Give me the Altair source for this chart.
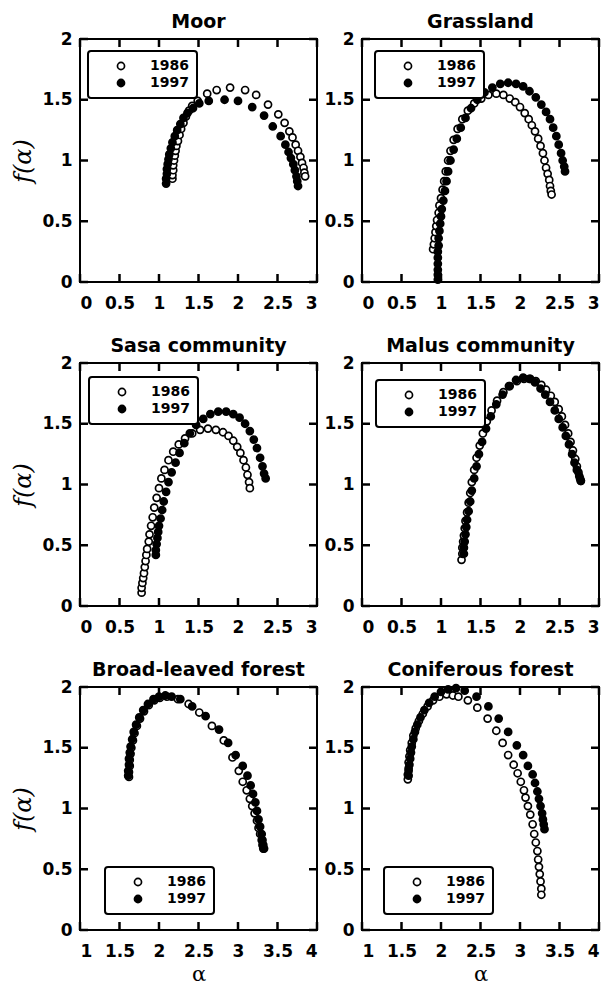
import altair as alt
import pandas as pd

FONT = "DejaVu Sans"
SERIF = "DejaVu Serif"

titles = ["Moor", "Grassland", "Sasa community", "Malus community",
          "Broad-leaved forest", "Coniferous forest"]
years = ["1986", "1997"]
x_ticks_03 = [0, 0.5, 1, 1.5, 2, 2.5, 3]
x_ticks_14 = [1, 1.5, 2, 2.5, 3, 3.5, 4]
y_ticks = [0, 0.5, 1, 1.5, 2]

# ---- Moor ----
moor_86_a = [1.17, 1.17, 1.18, 1.18, 1.19, 1.20, 1.21, 1.22, 1.24, 1.26, 1.28, 1.31, 1.34, 1.38, 1.42,
             1.49, 1.61, 1.73, 1.90, 2.09, 2.23, 2.38, 2.51, 2.59, 2.65, 2.69, 2.73, 2.76, 2.79, 2.81,
             2.83, 2.84, 2.85]
moor_86_f = [0.85, 0.88, 0.92, 0.96, 1.00, 1.04, 1.08, 1.12, 1.16, 1.21, 1.26, 1.31, 1.36, 1.41, 1.45,
             1.49, 1.55, 1.58, 1.60, 1.58, 1.54, 1.46, 1.38, 1.31, 1.24, 1.19, 1.13, 1.08, 1.03, 0.98,
             0.94, 0.90, 0.87]
moor_97_a = [1.09, 1.09, 1.10, 1.10, 1.11, 1.12, 1.13, 1.15, 1.17, 1.20, 1.23, 1.27, 1.31, 1.36, 1.43,
             1.51, 1.63, 1.83, 2.00, 2.18, 2.33, 2.44, 2.54, 2.60, 2.64, 2.67, 2.70, 2.72, 2.74, 2.75,
             2.76]
moor_97_f = [0.81, 0.85, 0.89, 0.93, 0.97, 1.01, 1.05, 1.10, 1.15, 1.20, 1.25, 1.30, 1.35, 1.39, 1.43,
             1.47, 1.49, 1.50, 1.49, 1.44, 1.37, 1.28, 1.20, 1.13, 1.07, 1.02, 0.97, 0.92, 0.87, 0.83,
             0.79]

# ---- Grassland ----
grass_86_a = [0.90, 0.91, 0.92, 0.93, 0.94, 0.95, 0.97, 0.98, 1.00, 1.02, 1.04, 1.06, 1.09, 1.12, 1.16,
              1.21, 1.27, 1.34, 1.42, 1.51, 1.60, 1.70, 1.79, 1.87, 1.94, 2.00, 2.06, 2.11, 2.15, 2.19,
              2.23, 2.26, 2.29, 2.31, 2.33, 2.35, 2.37, 2.38, 2.39, 2.40]
grass_86_f = [0.27, 0.31, 0.36, 0.41, 0.46, 0.51, 0.57, 0.63, 0.69, 0.76, 0.83, 0.91, 1.00, 1.08, 1.17,
              1.26, 1.34, 1.41, 1.47, 1.51, 1.54, 1.55, 1.54, 1.51, 1.48, 1.44, 1.39, 1.34, 1.29, 1.24,
              1.18, 1.12, 1.06, 1.00, 0.94, 0.89, 0.84, 0.79, 0.75, 0.72]
grass_97_a = [0.96, 0.96, 0.96, 0.96, 0.96, 0.96, 0.97, 0.97, 0.98, 0.99, 1.00, 1.01, 1.03, 1.05, 1.07,
              1.09, 1.12, 1.16, 1.20, 1.25, 1.31, 1.38, 1.46, 1.55, 1.65, 1.75, 1.85, 1.95, 2.04, 2.12,
              2.20, 2.27, 2.33, 2.38, 2.42, 2.46, 2.49, 2.52, 2.54, 2.56, 2.57]
grass_97_f = [0.02, 0.06, 0.10, 0.15, 0.20, 0.25, 0.30, 0.36, 0.42, 0.48, 0.54, 0.60, 0.67, 0.75, 0.83,
              0.91, 1.00, 1.09, 1.18, 1.27, 1.35, 1.43, 1.50, 1.56, 1.60, 1.63, 1.64, 1.63, 1.61, 1.57,
              1.52, 1.46, 1.40, 1.34, 1.27, 1.20, 1.13, 1.06, 1.00, 0.95, 0.91]

# ---- Sasa community ----
sasa_86_a = [0.78, 0.78, 0.79, 0.80, 0.81, 0.82, 0.83, 0.84, 0.85, 0.87, 0.88, 0.90, 0.92, 0.94, 0.97,
             1.00, 1.03, 1.07, 1.12, 1.18, 1.25, 1.33, 1.42, 1.52, 1.62, 1.72, 1.81, 1.88, 1.94, 1.99,
             2.03, 2.07, 2.10, 2.12, 2.14, 2.15]
sasa_86_f = [0.11, 0.15, 0.19, 0.23, 0.27, 0.32, 0.37, 0.42, 0.47, 0.53, 0.59, 0.66, 0.73, 0.81, 0.89,
             0.97, 1.05, 1.12, 1.20, 1.27, 1.33, 1.38, 1.42, 1.45, 1.46, 1.45, 1.43, 1.40, 1.36, 1.31,
             1.26, 1.20, 1.14, 1.08, 1.02, 0.97]
sasa_97_a = [0.96, 0.96, 0.97, 0.98, 0.99, 1.00, 1.02, 1.04, 1.06, 1.09, 1.12, 1.16, 1.21, 1.26, 1.32,
             1.39, 1.47, 1.56, 1.65, 1.75, 1.85, 1.94, 2.02, 2.09, 2.15, 2.20, 2.24, 2.28, 2.31, 2.33,
             2.35]
sasa_97_f = [0.42, 0.46, 0.51, 0.56, 0.61, 0.66, 0.72, 0.79, 0.86, 0.94, 1.02, 1.10, 1.18, 1.26, 1.34,
             1.42, 1.49, 1.54, 1.58, 1.60, 1.60, 1.58, 1.55, 1.50, 1.44, 1.37, 1.30, 1.22, 1.15, 1.09,
             1.05]

# ---- Malus community ----
malus_86_a = [1.26, 1.27, 1.27, 1.28, 1.29, 1.30, 1.31, 1.33, 1.35, 1.37, 1.39, 1.42, 1.45, 1.49, 1.53,
              1.58, 1.64, 1.71, 1.79, 1.87, 1.96, 2.05, 2.13, 2.20, 2.27, 2.33, 2.39, 2.44, 2.49, 2.53,
              2.57, 2.61, 2.64, 2.67, 2.70, 2.72, 2.74, 2.76, 2.77]
malus_86_f = [0.38, 0.43, 0.48, 0.53, 0.58, 0.64, 0.70, 0.77, 0.85, 0.93, 1.02, 1.12, 1.22, 1.32, 1.42,
              1.52, 1.61, 1.69, 1.76, 1.81, 1.85, 1.87, 1.87, 1.85, 1.82, 1.78, 1.73, 1.68, 1.62, 1.56,
              1.49, 1.42, 1.35, 1.28, 1.21, 1.15, 1.10, 1.05, 1.03]
malus_97_a = [1.29, 1.29, 1.30, 1.31, 1.32, 1.33, 1.35, 1.37, 1.39, 1.42, 1.45, 1.48, 1.52, 1.57, 1.63,
              1.70, 1.78, 1.86, 1.95, 2.04, 2.12, 2.19, 2.26, 2.32, 2.38, 2.44, 2.49, 2.54, 2.58, 2.62,
              2.66, 2.69, 2.72, 2.75, 2.77]
malus_97_f = [0.43, 0.48, 0.53, 0.59, 0.65, 0.71, 0.78, 0.86, 0.95, 1.05, 1.15, 1.25, 1.35, 1.46, 1.56,
              1.66, 1.74, 1.81, 1.86, 1.88, 1.87, 1.84, 1.79, 1.74, 1.68, 1.61, 1.54, 1.47, 1.40, 1.33,
              1.25, 1.18, 1.12, 1.07, 1.03]

# ---- Broad-leaved forest ----
broad_86_a = [1.62, 1.62, 1.63, 1.63, 1.64, 1.65, 1.67, 1.69, 1.72, 1.76, 1.81, 1.87, 1.94, 2.01, 2.10,
              2.24, 2.375, 2.51, 2.67, 2.82, 2.93, 3.01, 3.06, 3.11, 3.15, 3.18, 3.21, 3.24, 3.26, 3.28,
              3.30, 3.31, 3.32]
broad_86_f = [1.26, 1.30, 1.35, 1.40, 1.45, 1.50, 1.56, 1.62, 1.68, 1.74, 1.80, 1.85, 1.89, 1.91, 1.92,
              1.90, 1.86, 1.79, 1.68, 1.56, 1.42, 1.31, 1.22, 1.15, 1.08, 1.02, 0.96, 0.90, 0.84, 0.79,
              0.74, 0.70, 0.67]
broad_97_a = [1.61, 1.61, 1.62, 1.62, 1.63, 1.64, 1.66, 1.68, 1.71, 1.75, 1.80, 1.86, 1.93, 2.00, 2.08,
              2.16, 2.27, 2.42, 2.59, 2.76, 2.875, 2.97, 3.06, 3.12, 3.16, 3.19, 3.22, 3.24, 3.26, 3.28,
              3.30, 3.31, 3.32, 3.33]
broad_97_f = [1.27, 1.31, 1.36, 1.41, 1.46, 1.51, 1.57, 1.63, 1.69, 1.75, 1.81, 1.86, 1.90, 1.92, 1.93,
              1.92, 1.90, 1.84, 1.76, 1.65, 1.54, 1.44, 1.35, 1.27, 1.19, 1.12, 1.05, 0.98, 0.91, 0.85,
              0.79, 0.74, 0.70, 0.67]

# ---- Coniferous forest ----
conif_86_a = [1.58, 1.58, 1.59, 1.59, 1.60, 1.61, 1.63, 1.65, 1.68, 1.72, 1.77, 1.83, 1.90, 1.98, 2.07,
              2.15, 2.22, 2.34, 2.46, 2.59, 2.70, 2.78, 2.85, 2.92, 2.97, 3.01, 3.05, 3.07, 3.10, 3.13,
              3.16, 3.18, 3.20, 3.22, 3.23, 3.24, 3.25, 3.26, 3.27, 3.27]
conif_86_f = [1.24, 1.28, 1.33, 1.38, 1.43, 1.48, 1.54, 1.60, 1.66, 1.72, 1.78, 1.84, 1.89, 1.92, 1.94,
              1.93, 1.92, 1.89, 1.83, 1.74, 1.64, 1.54, 1.44, 1.36, 1.29, 1.22, 1.15, 1.09, 1.02, 0.95,
              0.87, 0.79, 0.72, 0.65, 0.58, 0.52, 0.46, 0.40, 0.34, 0.29]
conif_97_a = [1.59, 1.59, 1.60, 1.61, 1.62, 1.63, 1.65, 1.67, 1.70, 1.74, 1.79, 1.85, 1.92, 2.00, 2.09,
              2.19, 2.30, 2.45, 2.60, 2.73, 2.85, 2.96, 3.04, 3.10, 3.16, 3.19, 3.22, 3.24, 3.26, 3.28,
              3.29, 3.30, 3.31]
conif_97_f = [1.27, 1.31, 1.36, 1.41, 1.46, 1.51, 1.57, 1.63, 1.69, 1.75, 1.81, 1.87, 1.92, 1.96, 1.98,
              1.99, 1.97, 1.92, 1.84, 1.74, 1.63, 1.52, 1.44, 1.35, 1.28, 1.21, 1.14, 1.08, 1.02, 0.96,
              0.91, 0.87, 0.83]

W, H = 237, 243
TICK = 8


def panel(title, a86, f86, a97, f97, xdom, xticks, ytitle, xtitle, lx, ly):
    df = pd.DataFrame({
        "alpha": a86 + a97,
        "f": f86 + f97,
        "year": [years[0]] * len(a86) + [years[1]] * len(a97),
    })
    xt_df = pd.DataFrame({"alpha": xticks})
    yt_df = pd.DataFrame({"f": y_ticks})

    xs = alt.Scale(domain=xdom, nice=False, zero=False)
    ys = alt.Scale(domain=[0, 2], nice=False, zero=False)
    xax = alt.Axis(orient="bottom", values=xticks, format="~g", labelPadding=13,
                   domain=False, ticks=False, grid=False, labelOverlap=False,
                   title=xtitle, titleFontStyle="normal", titleFontSize=21, titlePadding=4)
    yax = alt.Axis(orient="left", values=y_ticks, format="~g", labelPadding=8,
                   domain=False, ticks=False, grid=False, labelOverlap=False,
                   title=ytitle, titleFontSize=24, titlePadding=6)
    X = alt.X("alpha:Q", scale=xs, axis=xax)
    Y = alt.Y("f:Q", scale=ys, axis=yax)

    fill = alt.Fill("year:N", scale=alt.Scale(domain=years, range=["white", "black"]),
                    legend=alt.Legend(orient="none", legendX=lx, legendY=ly, title=None))
    mk = dict(shape="circle", filled=True, size=50, stroke="black", strokeWidth=1.7, opacity=1)

    vt = dict(orient="vertical", size=TICK, thickness=2.5, color="black", opacity=1)
    ht = dict(orient="horizontal", size=TICK, thickness=2.5, color="black", opacity=1)
    t_bottom = alt.Chart(xt_df).mark_tick(**vt).encode(x=X, y=alt.value(H - TICK / 2))
    t_top = alt.Chart(xt_df).mark_tick(**vt).encode(x=X, y=alt.value(TICK / 2))
    t_left = alt.Chart(yt_df).mark_tick(**ht).encode(y=Y, x=alt.value(TICK / 2))
    t_right = alt.Chart(yt_df).mark_tick(**ht).encode(y=Y, x=alt.value(W - TICK / 2))

    l86 = alt.Chart(df).transform_filter(alt.datum.year == years[0]).mark_point(**mk).encode(
        x=X, y=Y, fill=fill)
    l97 = alt.Chart(df).transform_filter(alt.datum.year == years[1]).mark_point(**mk).encode(
        x=X, y=Y, fill=fill)
    return alt.layer(l86, l97, t_bottom, t_top, t_left, t_right).properties(
        width=W, height=H, title=title)


p1 = panel(titles[0], moor_86_a, moor_86_f, moor_97_a, moor_97_f, [0, 3], x_ticks_03, "f(α)", None, 8, 12)
p2 = panel(titles[1], grass_86_a, grass_86_f, grass_97_a, grass_97_f, [0, 3], x_ticks_03, None, None, 13, 12)
p3 = panel(titles[2], sasa_86_a, sasa_86_f, sasa_97_a, sasa_97_f, [0, 3], x_ticks_03, "f(α)", None, 9, 14)
p4 = panel(titles[3], malus_86_a, malus_86_f, malus_97_a, malus_97_f, [0, 3], x_ticks_03, None, None, 14, 17)
p5 = panel(titles[4], broad_86_a, broad_86_f, broad_97_a, broad_97_f, [1, 4], x_ticks_14, "f(α)", "α", 25, 180)
p6 = panel(titles[5], conif_86_a, conif_86_f, conif_97_a, conif_97_f, [1, 4], x_ticks_14, None, "α", 22, 180)


def row(a, b):
    return alt.hconcat(a, b, spacing=2).resolve_scale(fill="independent").resolve_legend(fill="independent")


chart = alt.vconcat(row(p1, p2), row(p3, p4), row(p5, p6), spacing=24).resolve_scale(
    fill="independent").resolve_legend(fill="independent").properties(
    padding={"left": 2, "top": 4, "right": 0, "bottom": 0}
).configure_view(
    stroke="black", strokeWidth=2
).configure_axis(
    labelFont=FONT, labelFontWeight="bold", labelFontSize=17, labelColor="black",
    titleFont=SERIF, titleFontWeight="normal", titleFontStyle="italic",
    titleColor="black"
).configure_title(
    font=FONT, fontSize=19, fontWeight="bold", color="black", anchor="middle",
    frame="group", offset=-2
).configure_legend(
    labelFont=FONT, labelFontWeight="bold", labelFontSize=14, labelColor="black",
    symbolType="circle", symbolSize=50, symbolStrokeColor="black", symbolStrokeWidth=1.7,
    strokeColor="black", strokeWidth=2, cornerRadius=3, padding=8, rowPadding=3,
    symbolOffset=18, labelOffset=22, fillColor="white"
)

chart.save("out.html", embed_options={"renderer": "svg", "actions": False})
